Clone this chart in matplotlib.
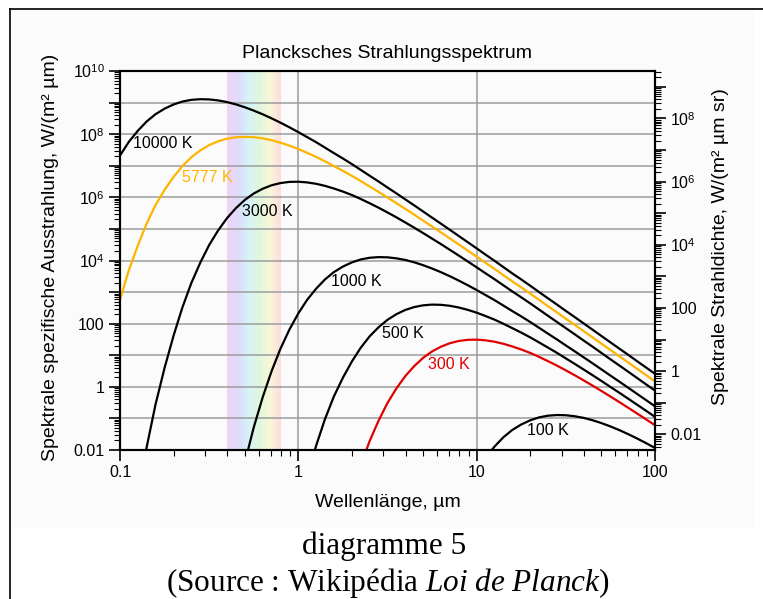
import numpy as np
import matplotlib
matplotlib.use("Agg")
import matplotlib.pyplot as plt
from matplotlib.ticker import LogLocator, FuncFormatter, NullFormatter
from matplotlib.colors import LinearSegmentedColormap
from matplotlib.lines import Line2D
from matplotlib.patches import Rectangle

plt.rcParams['font.family'] = 'Liberation Sans'
plt.rcParams['mathtext.fontset'] = 'custom'
plt.rcParams['mathtext.rm'] = 'Liberation Sans'
plt.rcParams['mathtext.it'] = 'Liberation Serif:italic'

# wavelength grid in µm (20 steps per decade)
wl = [0.1, 0.112, 0.126, 0.141, 0.158, 0.178, 0.2, 0.224, 0.251, 0.282,
      0.316, 0.355, 0.398, 0.447, 0.501, 0.562, 0.631, 0.708, 0.794, 0.891,
      1, 1.12, 1.26, 1.41, 1.58, 1.78, 2, 2.24, 2.51, 2.82,
      3.16, 3.55, 3.98, 4.47, 5.01, 5.62, 6.31, 7.08, 7.94, 8.91,
      10, 11.2, 12.6, 14.1, 15.8, 17.8, 20, 22.4, 25.1, 28.2,
      31.6, 35.5, 39.8, 44.7, 50.1, 56.2, 63.1, 70.8, 79.4, 89.1, 100]

# spectral exitance W/(m² µm); every series ends at 100 µm
m_10000 = [2.11e7, 5.68e7, 1.29e8, 2.51e8, 4.27e8, 6.45e8, 8.74e8, 1.08e9, 1.22e9, 1.28e9,
           1.26e9, 1.17e9, 1.04e9, 8.75e8, 7.11e8, 5.58e8, 4.26e8, 3.17e8, 2.31e8, 1.65e8,
           1.16e8, 8.08e7, 5.54e7, 3.76e7, 2.53e7, 1.69e7, 1.12e7, 7.38e6, 4.84e6, 3.16e6,
           2.05e6, 1.33e6, 8.60e5, 5.54e5, 3.56e5, 2.28e5, 1.46e5, 9.34e4, 5.96e4, 3.80e4,
           2.42e4, 1.54e4, 9.77e3, 6.21e3, 3.94e3, 2.50e3, 1.58e3, 1.00e3, 635, 402,
           254, 161, 102, 64.3, 40.6, 25.7, 16.2, 10.3, 6.47, 4.09, 2.58]
m_5777 = [571, 4.82e3, 3.03e4, 1.46e5, 5.60e5, 1.74e6, 4.49e6, 9.81e6, 1.85e7, 3.06e7,
          4.50e7, 5.96e7, 7.19e7, 8.01e7, 8.17e7, 8.03e7, 7.37e7, 6.43e7, 5.38e7, 4.34e7,
          3.38e7, 2.56e7, 1.90e7, 1.38e7, 9.81e6, 6.88e6, 4.76e6, 3.26e6, 2.21e6, 1.48e6,
          9.88e5, 6.54e5, 4.30e5, 2.82e5, 1.83e5, 1.19e5, 7.73e4, 4.99e4, 3.21e4, 2.06e4,
          1.32e4, 8.47e3, 5.41e3, 3.45e3, 2.20e3, 1.40e3, 890, 566, 359, 228,
          144, 91.5, 58.0, 36.7, 23.2, 14.7, 9.29, 5.88, 3.72, 2.35, 1.48]
m_3000 = [3.37e-4, 0.0120, 0.269, 4.08, 43.0, 331, 1.91e3, 8.57e3, 3.07e4, 8.97e4,
          2.19e5, 4.57e5, 8.27e5, 1.32e6, 1.87e6, 2.41e6, 2.83e6, 3.08e6,
          3.12e6, 2.97e6, 2.68e6, 2.31e6, 1.91e6, 1.52e6, 1.18e6, 8.85e5, 6.51e5, 4.69e5,
          3.33e5, 2.32e5, 1.60e5, 1.09e5, 7.38e4, 4.94e4, 3.29e4, 2.17e4, 1.43e4, 9.33e3,
          6.08e3, 3.95e3, 2.55e3, 1.65e3, 1.06e3, 680, 436, 279, 178, 113,
          72.3, 46.0, 29.2, 18.6, 11.8, 7.47, 4.74, 3.00, 1.90, 1.20, 0.762]
m_1000 = [4.03e-3, 0.0514, 0.467, 3.14, 16.1, 64.9,
          211, 568, 1.29e3, 2.51e3, 4.27e3, 6.45e3, 8.74e3, 1.08e4, 1.22e4, 1.28e4,
          1.26e4, 1.17e4, 1.04e4, 8.75e3, 7.11e3, 5.58e3, 4.26e3, 3.17e3, 2.31e3, 1.65e3,
          1.16e3, 808, 554, 376, 253, 169, 112, 73.8, 48.4, 31.6,
          20.5, 13.3, 8.60, 5.54, 3.56, 2.28, 1.46, 0.934, 0.596, 0.380, 0.242]
m_500 = [1.19e-4, 1.53e-3, 0.0140, 0.0946, 0.487, 1.97, 6.45, 17.4, 39.6, 77.4,
         132, 200, 272, 336, 381, 401, 395, 368, 325, 274,
         223, 175, 134, 99.8, 72.7, 52.0, 36.6, 25.4, 17.5, 11.9,
         7.97, 5.32, 3.53, 2.33, 1.53, 0.996, 0.648, 0.420, 0.271, 0.175, 0.112]
m_300 = [4.30e-4, 3.31e-3, 0.0191, 0.0857,
         0.307, 0.897, 2.19, 4.57, 8.27, 13.2, 18.7, 24.1, 28.3, 30.8,
         31.2, 29.7, 26.8, 23.1, 19.1, 15.2, 11.8, 8.85, 6.51, 4.69,
         3.33, 2.32, 1.60, 1.09, 0.738, 0.494, 0.329, 0.217, 0.143, 0.0933, 0.0608]
m_100 = [2.11e-3, 5.68e-3, 0.0129, 0.0251, 0.0427, 0.0645, 0.0874, 0.108, 0.122, 0.128,
         0.126, 0.117, 0.104, 0.0875, 0.0711, 0.0558, 0.0426, 0.0317, 0.0231, 0.0165, 0.0116]

visible = (0.4, 0.8)

orange = '#ffb400'
red = '#e00000'

fig = plt.figure(figsize=(7.63, 5.99), dpi=100)
fig.add_artist(Rectangle((12/763, 1-527/599), 741/763, 517/599,
                         transform=fig.transFigure, color='#fbfbfb', zorder=-2))
fig.add_artist(Line2D([10/763, 10/763], [0, 1-9/599], color='k', lw=1.2))
fig.add_artist(Line2D([10/763, 1], [1-9/599, 1-9/599], color='k', lw=1.2))

ax = fig.add_axes([120/763, 1-450/599, 535/763, 379/599])
ax.set_facecolor('#fbfbfb')
ax.set_xscale('log')
ax.set_yscale('log')
ax.set_xlim(0.1, 100)
ax.set_ylim(0.01, 1e10)

# pastel rainbow over the visible range
cmap = LinearSegmentedColormap.from_list('vis', ['#f3d3f3', '#dcdcfa', '#d6f3f8',
                                                 '#dff6dc', '#f8f8d8', '#fcdcdc'])
edges = np.geomspace(visible[0], visible[1], 61)
for i in range(60):
    ax.axvspan(edges[i], edges[i+1], color=cmap(i/59), lw=0, zorder=0.2)

ax.set_axisbelow(True)
ax.grid(True, which='major', color='#9c9c9c', lw=1.1)

ax.plot(wl[-len(m_10000):], m_10000, color='k', lw=1.6)
ax.plot(wl[-len(m_5777):], m_5777, color=orange, lw=1.6)
ax.plot(wl[-len(m_3000):], m_3000, color='k', lw=1.6)
ax.plot(wl[-len(m_1000):], m_1000, color='k', lw=1.6)
ax.plot(wl[-len(m_500):], m_500, color='k', lw=1.6)
ax.plot(wl[-len(m_300):], m_300, color=red, lw=1.6)
ax.plot(wl[-len(m_100):], m_100, color='k', lw=1.6)

lab = dict(fontsize=11.5, va='center', ha='left')
ax.text(0.118, 4.9e7, '10000 K', **lab)
ax.text(0.223, 4.4e6, '5777 K', color=orange, **lab)
ax.text(0.483, 3.45e5, '3000 K', **lab)
ax.text(1.53, 2.1e3, '1000 K', **lab)
ax.text(2.95, 47.5, '500 K', **lab)
ax.text(5.34, 4.97, '300 K', color=red, **lab)
ax.text(19.2, 0.0406, '100 K', **lab)


def ylab(v, pos):
    e = int(round(np.log10(v)))
    if e % 2:
        return ''
    if e <= 2:
        return '%g' % v
    return r'$10^{%d}$' % e


ax2 = ax.twinx()
ax2.set_yscale('log')
ax2.set_ylim(0.01/np.pi, 1e10/np.pi)

for a in (ax, ax2):
    a.yaxis.set_major_locator(LogLocator(base=10, numticks=30))
    a.yaxis.set_minor_locator(LogLocator(base=10, subs=np.arange(2, 10), numticks=30))
    a.yaxis.set_major_formatter(FuncFormatter(ylab))
    a.yaxis.set_minor_formatter(NullFormatter())
    a.tick_params(which='major', direction='out', length=8, width=1.2, labelsize=11.5, pad=3)
    a.tick_params(which='minor', direction='out', length=4, width=0.8)
    for s in a.spines.values():
        s.set_linewidth(1.5)

ax.xaxis.set_major_locator(LogLocator(base=10, numticks=10))
ax.xaxis.set_minor_locator(LogLocator(base=10, subs=np.arange(2, 10), numticks=10))
ax.xaxis.set_major_formatter(FuncFormatter(lambda v, p: '%g' % v))
ax.xaxis.set_minor_formatter(NullFormatter())
ax.tick_params(top=False, right=False)
ax.tick_params(which='minor', top=False, right=False)

ax.set_xlabel('Wellenlänge, µm', fontsize=14)
ax.xaxis.set_label_coords(0.5, -0.115)
ax.set_ylabel('Spektrale spezifische Ausstrahlung, W/(m² µm)', fontsize=14)
ax.yaxis.set_label_coords(-0.114, 0.507)
ax2.set_ylabel('Spektrale Strahldichte, W/(m² µm sr)', fontsize=14)
ax2.yaxis.set_label_coords(1.1065, 0.538)

fig.text(387/763, 1-53/599, 'Plancksches Strahlungsspektrum', fontsize=14,
         ha='center', va='center')
fig.text(384/763, 1-546/599, 'diagramme 5', family='Liberation Serif',
         fontsize=22.5, ha='center', va='center')
fig.text(388/763, 1-583/599, r'(Source : Wikipédia $\mathit{Loi\ de\ Planck}$)',
         family='Liberation Serif', fontsize=22.5, ha='center', va='center')

fig.savefig('out.png', dpi=100)
